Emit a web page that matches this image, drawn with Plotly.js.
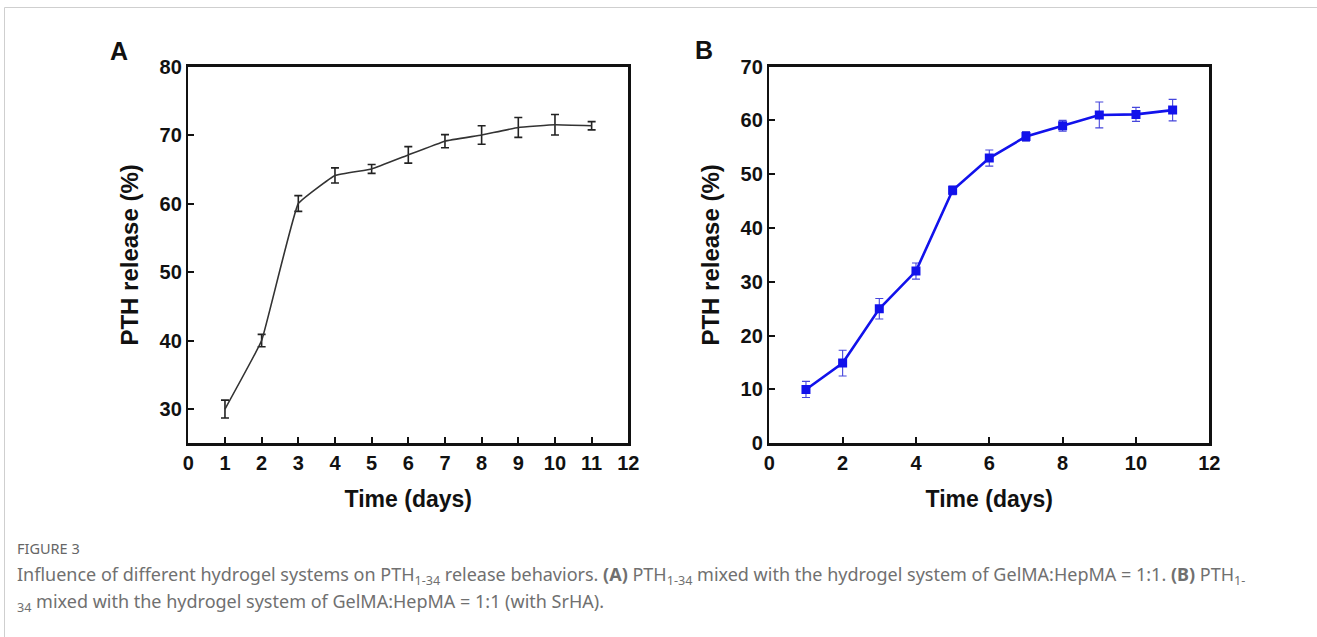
<!DOCTYPE html>
<html>
<head>
<meta charset="utf-8">
<script src="https://cdn.plot.ly/plotly-3.0.1.min.js"></script>
<style>
html,body{margin:0;padding:0;background:#fff;}
#chart{width:1317px;height:637px;}
</style>
</head>
<body>
<div id="chart"></div>
<script>
// Panel A data
const daysA = [1, 2, 3, 4, 5, 6, 7, 8, 9, 10, 11];
const releaseA = [30, 40, 60, 64.1, 65.05, 67.1, 69.1, 70, 71.1, 71.5, 71.35];
const errorA = [1.3, 0.9, 1.15, 1.1, 0.65, 1.2, 0.95, 1.35, 1.45, 1.5, 0.6];
// Panel B data
const daysB = [1, 2, 3, 4, 5, 6, 7, 8, 9, 10, 11];
const releaseB = [10, 14.9, 25, 32, 47, 53, 57, 59, 61, 61.1, 61.9];
const errorB = [1.5, 2.4, 1.9, 1.5, 0.8, 1.5, 0.9, 1.0, 2.4, 1.3, 2.0];
// Tick values
const xTicksA = [0, 1, 2, 3, 4, 5, 6, 7, 8, 9, 10, 11, 12];
const yTicksA = [30, 40, 50, 60, 70, 80];
const xTicksB = [0, 2, 4, 6, 8, 10, 12];
const yTicksB = [0, 10, 20, 30, 40, 50, 60, 70];
// Texts
const xTitle = 'Time (days)';
const yTitle = 'PTH release (%)';
const figLabel = 'FIGURE 3';
const captionLine1 = 'Influence of different hydrogel systems on PTH<sub>1-34</sub> release behaviors. <b>(A)</b> PTH<sub>1-34</sub> mixed with the hydrogel system of GelMA:HepMA = 1:1. <b>(B)</b> PTH<sub>1-</sub>';
const captionLine2 = '<sub>34</sub> mixed with the hydrogel system of GelMA:HepMA = 1:1 (with SrHA).';

const W = 1317, H = 637;
const px = v => v / W;
const py = v => 1 - v / H;

const tickFont = {family: 'Liberation Sans, Arial, sans-serif', size: 20, weight: 'bold', color: '#111'};
const titleFontX = {family: 'Liberation Sans, Arial, sans-serif', size: 23, weight: 'bold', color: '#111'};
const titleFontY = {family: 'Liberation Sans, Arial, sans-serif', size: 24, weight: 'bold', color: '#111'};
const captionFont = {family: 'Noto Sans, Open Sans, sans-serif', size: 18, color: '#707070'};

const traceA = {
  x: daysA, y: releaseA, xaxis: 'x', yaxis: 'y', type: 'scatter', mode: 'lines',
  line: {color: '#333', width: 1.6, shape: 'spline', smoothing: 0.25},
  error_y: {type: 'data', array: errorA, visible: true, color: '#222', thickness: 1.6, width: 4},
  showlegend: false
};
const traceB = {
  x: daysB, y: releaseB, xaxis: 'x2', yaxis: 'y2', type: 'scatter', mode: 'lines+markers',
  line: {color: 'rgb(18,18,235)', width: 2.6},
  marker: {symbol: 'square', size: 9, color: 'rgb(18,18,235)'},
  error_y: {type: 'data', array: errorB, visible: true, color: 'rgb(70,70,220)', thickness: 1.1, width: 4},
  showlegend: false
};

const axisCommon = {
  showline: true, linecolor: '#111', linewidth: 2.5, mirror: true,
  ticks: 'inside', ticklen: 6, tickwidth: 2, tickcolor: '#111',
  showgrid: false, zeroline: false, tickfont: tickFont, fixedrange: true
};

const yDom = [py(443.3), py(66.5)];

const layout = {
  width: W, height: H,
  margin: {l: 0, r: 0, t: 0, b: 0},
  paper_bgcolor: '#fff', plot_bgcolor: '#fff',
  xaxis: Object.assign({}, axisCommon, {
    domain: [px(188.3), px(628.3)], range: [0, 12], tickvals: xTicksA, anchor: 'y',
    title: {text: xTitle, font: titleFontX, standoff: 18}
  }),
  yaxis: Object.assign({}, axisCommon, {
    domain: yDom, range: [25, 80], tickvals: yTicksA, anchor: 'x',
    title: {text: yTitle, font: titleFontY, standoff: 14}
  }),
  xaxis2: Object.assign({}, axisCommon, {
    domain: [px(769.3), px(1209.3)], range: [0, 12], tickvals: xTicksB, anchor: 'y2',
    title: {text: xTitle, font: titleFontX, standoff: 18}
  }),
  yaxis2: Object.assign({}, axisCommon, {
    domain: yDom, range: [0, 70], tickvals: yTicksB, anchor: 'x2',
    title: {text: yTitle, font: titleFontY, standoff: 14}
  }),
  shapes: [
    {type: 'line', xref: 'paper', yref: 'paper', x0: px(4.5), x1: 1, y0: py(7.5), y1: py(7.5), line: {color: '#cfcfcf', width: 1}},
    {type: 'line', xref: 'paper', yref: 'paper', x0: px(4.5), x1: px(4.5), y0: py(7.5), y1: 0, line: {color: '#cfcfcf', width: 1}}
  ],
  annotations: [
    {text: 'A', xref: 'paper', yref: 'paper', x: px(119), y: py(51), xanchor: 'center', yanchor: 'middle', showarrow: false,
     font: {family: 'Liberation Sans, Arial, sans-serif', size: 25, weight: 'bold', color: '#111'}},
    {text: 'B', xref: 'paper', yref: 'paper', x: px(704), y: py(50), xanchor: 'center', yanchor: 'middle', showarrow: false,
     font: {family: 'Liberation Sans, Arial, sans-serif', size: 25, weight: 'bold', color: '#111'}},
    {text: figLabel, xref: 'paper', yref: 'paper', x: px(15), y: py(548), xanchor: 'left', yanchor: 'middle', showarrow: false,
     font: {family: 'Noto Sans, Open Sans, sans-serif', size: 14.5, color: '#666'}},
    {text: captionLine1, xref: 'paper', yref: 'paper', x: px(15), y: py(575), xanchor: 'left', yanchor: 'middle', showarrow: false, align: 'left',
     font: captionFont},
    {text: captionLine2, xref: 'paper', yref: 'paper', x: px(15), y: py(602), xanchor: 'left', yanchor: 'middle', showarrow: false, align: 'left',
     font: captionFont}
  ]
};

Plotly.newPlot('chart', [traceA, traceB], layout, {displayModeBar: false, staticPlot: true});
</script>
</body>
</html>
